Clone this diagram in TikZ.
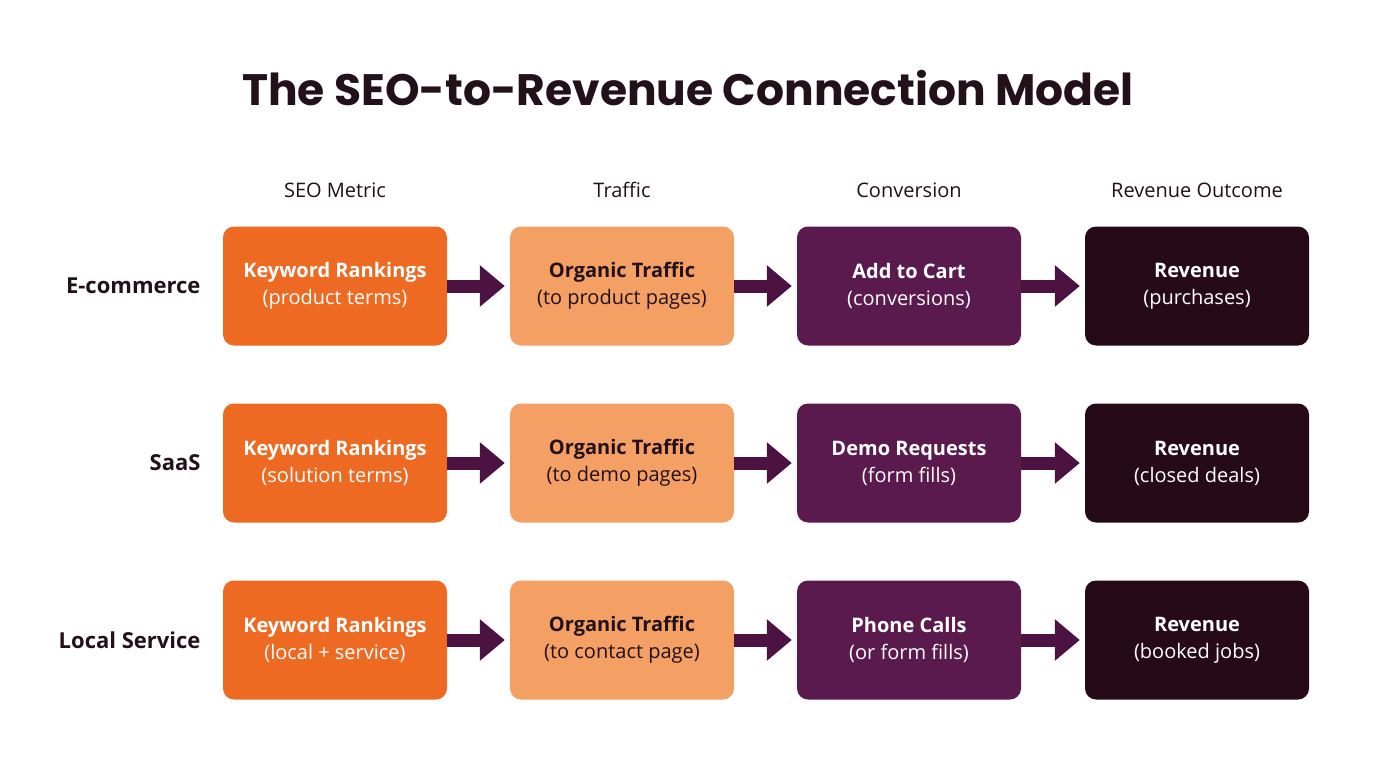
\documentclass[tikz,border=0pt]{standalone}
\usepackage{fontspec}
\setmainfont{Open Sans}
\newfontfamily\titlefont{Poppins}
\usetikzlibrary{arrows.meta}
\definecolor{cOr}{HTML}{EE6A22}
\definecolor{cLo}{HTML}{F4A064}
\definecolor{cPu}{HTML}{5A1A4E}
\definecolor{cDk}{HTML}{260A16}
\definecolor{cAr}{HTML}{4C1242}
\definecolor{cTx}{HTML}{22101A}
\begin{document}
\begin{tikzpicture}[x=1pt,y=-1pt,
  box/.style={rounded corners=11pt,minimum width=224pt,minimum height=119pt,inner sep=0pt,align=center,font=\fontsize{20}{27}\selectfont},
  b1/.style={box,fill=cOr,text=white},
  b2/.style={box,fill=cLo,text=cTx},
  b3/.style={box,fill=cPu,text=white},
  b4/.style={box,fill=cDk,text=white},
  hdr/.style={font=\fontsize{20}{24}\selectfont,text=cTx},
  rowl/.style={font=\bfseries\fontsize{22}{26}\selectfont,text=cTx,anchor=east},
  arr/.style={draw=cAr,line width=13pt,-{Triangle[length=25pt,width=40pt]}}]
\useasboundingbox (0,0) rectangle (1376,768);
\fill[white] (0,0) rectangle (1376,768);
\node[font=\titlefont\bfseries\fontsize{44}{50}\selectfont,text=cTx] (title) at (688,88) {The SEO-to-Revenue Connection Model};
\node[hdr] (h1) at (335,190) {SEO Metric};
\node[hdr] (h2) at (622,190) {Traffic};
\node[hdr] (h3) at (909,190) {Conversion};
\node[hdr] (h4) at (1197,190) {Revenue Outcome};
\foreach \r/\y/\lab/\a/\b/\c/\d/\e/\f/\g/\h in {
  1/286/E-commerce/Keyword Rankings/product terms/Organic Traffic/to product pages/Add to Cart/conversions/Revenue/purchases,
  2/463/SaaS/Keyword Rankings/solution terms/Organic Traffic/to demo pages/Demo Requests/form fills/Revenue/closed deals,
  3/640/Local Service/Keyword Rankings/local + service/Organic Traffic/to contact page/Phone Calls/or form fills/Revenue/booked jobs}{
  \node[rowl] (l\r) at (204,\y) {\lab};
  \node[b1] (a\r) at (335,\y) {\textbf{\a}\\(\b)};
  \node[b2] (b\r) at (622,\y) {\textbf{\c}\\(\d)};
  \node[b3] (c\r) at (909,\y) {\textbf{\e}\\(\f)};
  \node[b4] (d\r) at (1197,\y) {\textbf{\g}\\(\h)};
  \draw[arr] (a\r.east) -- ([xshift=-5pt]b\r.west);
  \draw[arr] (b\r.east) -- ([xshift=-5pt]c\r.west);
  \draw[arr] (c\r.east) -- ([xshift=-5pt]d\r.west);
}
\end{tikzpicture}
\end{document}
